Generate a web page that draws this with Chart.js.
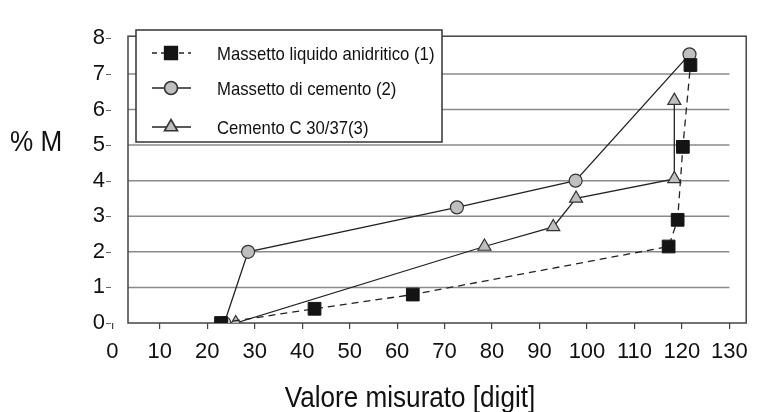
<!DOCTYPE html>
<html>
<head>
<meta charset="utf-8">
<script src="https://cdn.jsdelivr.net/npm/chart.js@4.4.1/dist/chart.umd.min.js"></script>
<style>
  html, body { margin: 0; padding: 0; background: #fff; }
</style>
</head>
<body>
<canvas id="chart" width="758" height="412"></canvas>
<script>
const seriesNames = ['Massetto liquido anidritico (1)', 'Massetto di cemento (2)', 'Cemento C 30/37(3)'];

// misurazioni: valore in digit -> umidità % M
const anhydriteX = [22.9, 42.6, 63.3, 117.2, 119.1, 120.2, 121.8];
const anhydriteY = [0, 0.4, 0.8, 2.15, 2.9, 4.95, 7.25];
const cementScreedX = [23.6, 28.6, 72.6, 97.6, 121.6];
const cementScreedY = [0, 2.0, 3.25, 4.0, 7.55];
const concreteX = [26.0, 78.4, 92.9, 97.7, 118.4, 118.4];
const concreteY = [0, 2.15, 2.7, 3.5, 4.05, 6.25];

const xTicks = [0, 10, 20, 30, 40, 50, 60, 70, 80, 90, 100, 110, 120, 130];
const yTicks = [0, 1, 2, 3, 4, 5, 6, 7, 8];
const gridValues = [1, 2, 3, 4, 5, 6, 7];

const yTitle = '% M';
const xTitle = 'Valore misurato [digit]';

const SANS = '"Liberation Sans", Arial, Helvetica, sans-serif';

function toPoints(xs, ys) {
  return xs.map((x, i) => ({ x: x, y: ys[i] }));
}

// text squeezed horizontally, to look like a condensed face
function condensedText(ctx, text, x, y, font, squeeze, align) {
  ctx.save();
  ctx.font = font;
  ctx.textBaseline = 'alphabetic';
  ctx.textAlign = 'left';
  const w = ctx.measureText(text).width * squeeze;
  let left = x;
  if (align === 'center') left = x - w / 2;
  ctx.translate(left, y);
  ctx.scale(squeeze, 1);
  ctx.fillText(text, 0, 0);
  ctx.restore();
}

const datasets = [
  {
    label: seriesNames[0],
    data: toPoints(anhydriteX, anhydriteY),
    borderColor: '#222',
    borderWidth: 1.3,
    borderDash: [7, 5],
    pointStyle: 'rect',
    pointRadius: 9,
    pointBackgroundColor: '#141414',
    pointBorderColor: '#141414',
    pointBorderWidth: 1
  },
  {
    label: seriesNames[1],
    data: toPoints(cementScreedX, cementScreedY),
    borderColor: '#222',
    borderWidth: 1.3,
    pointStyle: 'circle',
    pointRadius: 6.5,
    pointBackgroundColor: '#bfbfbf',
    pointBorderColor: '#333',
    pointBorderWidth: 1.2
  },
  {
    label: seriesNames[2],
    data: toPoints(concreteX, concreteY),
    borderColor: '#222',
    borderWidth: 1.3,
    pointStyle: 'triangle',
    pointRadius: 7.5,
    pointBackgroundColor: '#bfbfbf',
    pointBorderColor: '#333',
    pointBorderWidth: 1.2
  }
];

// grid lines, frame, titles and the boxed legend
const framePlugin = {
  id: 'frame',
  beforeDatasetsDraw(chart) {
    const ctx = chart.ctx;
    const area = chart.chartArea;
    const xs = chart.scales.x;
    const ys = chart.scales.y;
    ctx.save();

    ctx.strokeStyle = '#8a8a8a';
    ctx.lineWidth = 1.5;
    const gridEnd = xs.getPixelForValue(130);
    gridValues.forEach(v => {
      const y = ys.getPixelForValue(v);
      ctx.beginPath();
      ctx.moveTo(area.left, y);
      ctx.lineTo(gridEnd, y);
      ctx.stroke();
    });

    ctx.strokeStyle = '#444';
    ctx.lineWidth = 1.5;
    ctx.strokeRect(area.left, area.top, area.right - area.left, area.bottom - area.top);

    // small dashes next to the y labels
    ctx.strokeStyle = '#666';
    ctx.lineWidth = 1;
    yTicks.forEach(v => {
      const y = Math.round(ys.getPixelForValue(v)) + 0.5;
      ctx.beginPath();
      ctx.moveTo(106, y);
      ctx.lineTo(111, y);
      ctx.stroke();
    });

    ctx.fillStyle = '#111';
    condensedText(ctx, yTitle, 10, 151, '29px ' + SANS, 0.9, 'left');
    condensedText(ctx, xTitle, 410, 407, '29px ' + SANS, 0.9, 'center');

    // legend
    const box = { left: 136, top: 30, right: 442, bottom: 142 };
    ctx.fillStyle = '#fff';
    ctx.fillRect(box.left, box.top, box.right - box.left, box.bottom - box.top);
    ctx.strokeStyle = '#333';
    ctx.lineWidth = 1.5;
    ctx.strokeRect(box.left, box.top, box.right - box.left, box.bottom - box.top);

    const rows = [53, 88, 127];
    chart.data.datasets.forEach((ds, i) => {
      const y = rows[i];
      ctx.strokeStyle = ds.borderColor;
      ctx.lineWidth = 1.6;
      ctx.setLineDash(ds.borderDash ? [5, 4] : []);
      ctx.beginPath();
      ctx.moveTo(152, y);
      ctx.lineTo(191, y);
      ctx.stroke();
      ctx.setLineDash([]);
      ctx.fillStyle = ds.pointBackgroundColor;
      ctx.strokeStyle = ds.pointBorderColor;
      Chart.helpers.drawPoint(ctx, {
        pointStyle: ds.pointStyle,
        radius: ds.pointRadius,
        rotation: 0,
        borderWidth: ds.pointBorderWidth
      }, 171, y);
      ctx.fillStyle = '#111';
      condensedText(ctx, ds.label, 217, y + 7, '19px ' + SANS, 0.88, 'left');
    });

    ctx.restore();
  }
};

new Chart(document.getElementById('chart'), {
  type: 'scatter',
  data: { datasets: datasets },
  options: {
    responsive: false,
    devicePixelRatio: 1,
    animation: false,
    showLine: true,
    layout: { padding: { left: 0, right: 7, top: 20, bottom: 0 } },
    plugins: {
      legend: { display: false },
      tooltip: { enabled: false }
    },
    scales: {
      x: {
        type: 'linear',
        min: 3.3,
        max: 133.55,
        bounds: 'data',
        afterBuildTicks: axis => { axis.ticks = xTicks.map(v => ({ value: v })); },
        afterFit: axis => { axis.height = 89; },
        grid: {
          drawOnChartArea: false,
          drawTicks: true,
          tickLength: 6,
          color: '#444',
          lineWidth: 1.2
        },
        border: { display: false },
        ticks: {
          autoSkip: false,
          maxRotation: 0,
          padding: 10,
          color: '#111',
          font: { family: SANS, size: 22 },
          callback: v => String(v)
        }
      },
      y: {
        type: 'linear',
        min: 0,
        max: 8.06,
        bounds: 'data',
        afterBuildTicks: axis => { axis.ticks = yTicks.map(v => ({ value: v })); },
        afterFit: axis => { axis.width = 128; },
        grid: { display: false, drawTicks: false },
        border: { display: false },
        ticks: {
          autoSkip: false,
          padding: 23,
          color: '#111',
          font: { family: SANS, size: 22 },
          callback: v => String(v)
        }
      }
    }
  },
  plugins: [framePlugin]
});
</script>
</body>
</html>
